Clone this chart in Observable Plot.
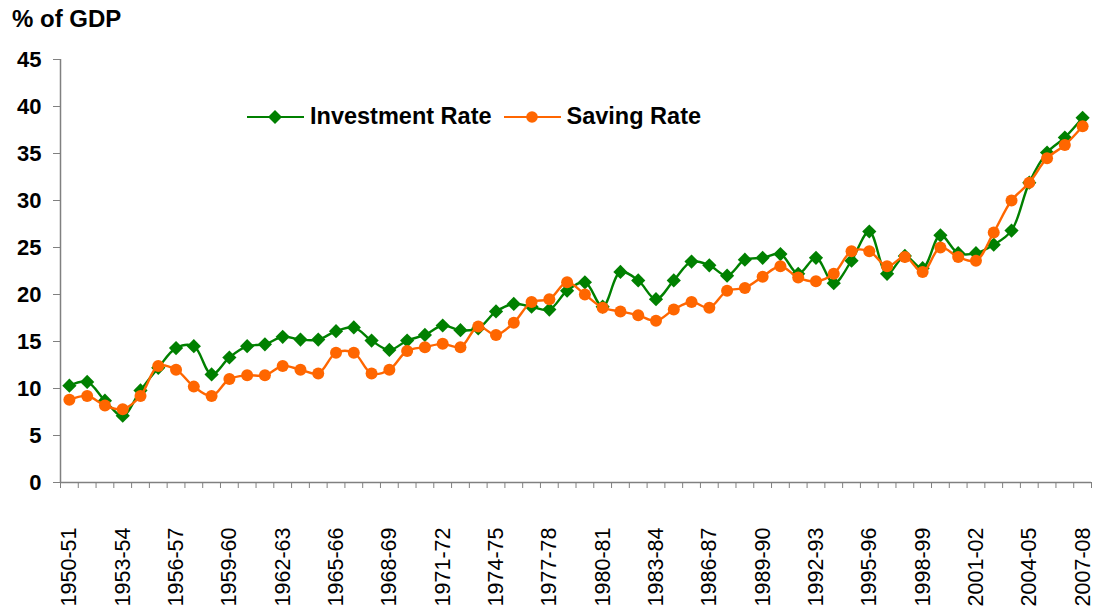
<!DOCTYPE html>
<html>
<head>
<meta charset="utf-8">
<script src="https://cdn.jsdelivr.net/npm/d3@7"></script>
<script src="https://cdn.jsdelivr.net/npm/@observablehq/plot@0.6"></script>
<style>
  html, body { margin: 0; padding: 0; background: #fff; }
  #wrap { position: relative; width: 1094px; height: 610px; font-family: "Liberation Sans", Arial, sans-serif; }
  #title { position: absolute; left: 12px; top: 5px; font-weight: bold; font-size: 24px; color: #000; }
  #legend { position: absolute; left: 247px; top: 103px; display: flex; align-items: center; font-weight: bold; font-size: 23.5px; color: #000; }
  #legend .item { display: flex; align-items: center; margin-right: 12px; }
  #legend svg { margin-right: 6px; }
</style>
</head>
<body>
<div id="wrap">
  <div id="chart"></div>
  <div id="title">% of GDP</div>
  <div id="legend"></div>
</div>
<script>
const categories = [
  "1950-51","1951-52","1952-53","1953-54","1954-55","1955-56","1956-57","1957-58","1958-59","1959-60",
  "1960-61","1961-62","1962-63","1963-64","1964-65","1965-66","1966-67","1967-68","1968-69","1969-70",
  "1970-71","1971-72","1972-73","1973-74","1974-75","1975-76","1976-77","1977-78","1978-79","1979-80",
  "1980-81","1981-82","1982-83","1983-84","1984-85","1985-86","1986-87","1987-88","1988-89","1989-90",
  "1990-91","1991-92","1992-93","1993-94","1994-95","1995-96","1996-97","1997-98","1998-99","1999-00",
  "2000-01","2001-02","2002-03","2003-04","2004-05","2005-06","2006-07","2007-08"
];
const investmentRate = [
  10.3, 10.7, 8.7, 7.1, 9.8, 12.2, 14.3, 14.5, 11.5, 13.3,
  14.5, 14.7, 15.5, 15.2, 15.2, 16.1, 16.5, 15.1, 14.1, 15.1,
  15.7, 16.7, 16.2, 16.4, 18.2, 19.0, 18.7, 18.4, 20.4, 21.3,
  18.7, 22.4, 21.5, 19.5, 21.5, 23.5, 23.1, 22.0, 23.7, 23.9,
  24.3, 22.2, 23.9, 21.2, 23.6, 26.7, 22.2, 24.1, 22.8, 26.3,
  24.4, 24.4, 25.3, 26.8, 31.9, 35.1, 36.7, 38.8
];
const savingRate = [
  8.8, 9.2, 8.2, 7.8, 9.2, 12.4, 12.0, 10.2, 9.2, 11.0,
  11.4, 11.4, 12.4, 12.0, 11.6, 13.8, 13.8, 11.6, 12.0, 14.0,
  14.4, 14.75, 14.4, 16.6, 15.7, 17.0, 19.2, 19.5, 21.3, 20.0,
  18.6, 18.2, 17.8, 17.2, 18.4, 19.2, 18.6, 20.4, 20.7, 21.9,
  23.0, 21.8, 21.4, 22.2, 24.6, 24.6, 23.0, 24.0, 22.4, 25.0,
  24.0, 23.6, 26.6, 30.0, 31.9, 34.5, 35.9, 37.9
];
const yTicks = [0, 5, 10, 15, 20, 25, 30, 35, 40, 45];
const labelEvery = 3;
const seriesNames = ["Investment Rate", "Saving Rate"];
const seriesColors = ["#008000", "#FF6600"];

const inv = categories.map((c, i) => ({i, c, v: investmentRate[i]}));
const sav = categories.map((c, i) => ({i, c, v: savingRate[i]}));
const n = categories.length;
const labelIdx = d3.range(0, n, labelEvery);
const boundaries = d3.range(-0.5, n, 1);
const axisColor = "#808080";

const chart = Plot.plot({
  width: 1094,
  height: 610,
  marginLeft: 60,
  marginRight: 3,
  marginTop: 59,
  marginBottom: 128,
  style: {fontFamily: "'Liberation Sans', Arial, sans-serif", background: "#fff", overflow: "visible"},
  x: {type: "linear", domain: [-0.5, n - 0.5]},
  y: {domain: [0, 45]},
  marks: [
    Plot.axisY({ticks: yTicks, tickSize: 7, tickPadding: 12, fontSize: 22, fontWeight: "bold", stroke: axisColor, color: "#000", label: null, tickFormat: d => d}),
    Plot.axisX({ticks: boundaries, tickSize: 6, tickFormat: () => "", stroke: axisColor, label: null}),
    Plot.axisX({ticks: labelIdx, tickSize: 0, tickPadding: 45, tickRotate: -90, fontSize: 21.5, tickFormat: i => categories[i], label: null}),
    Plot.ruleY([0], {stroke: axisColor, strokeWidth: 1.5}),
    Plot.ruleX([-0.5], {stroke: axisColor, strokeWidth: 1.5}),
    Plot.line(inv, {x: "i", y: "v", stroke: seriesColors[0], strokeWidth: 2.4, curve: "catmull-rom"}),
    Plot.dot(inv, {x: "i", y: "v", symbol: "diamond2", r: 6.4, fill: seriesColors[0], stroke: "none"}),
    Plot.line(sav, {x: "i", y: "v", stroke: seriesColors[1], strokeWidth: 2.4, curve: "catmull-rom"}),
    Plot.dot(sav, {x: "i", y: "v", symbol: "circle", r: 6, fill: seriesColors[1], stroke: "none"})
  ]
});
document.getElementById("chart").appendChild(chart);

// legend
const legend = document.getElementById("legend");
seriesNames.forEach((name, k) => {
  const item = document.createElement("div");
  item.className = "item";
  const sym = k === 0
    ? `<path d="M28,6 L35,13 L28,20 L21,13 Z" fill="${seriesColors[k]}"/>`
    : `<circle cx="28" cy="13" r="5.8" fill="${seriesColors[k]}"/>`;
  item.innerHTML = `<svg width="57" height="26"><line x1="0" x2="57" y1="13" y2="13" stroke="${seriesColors[k]}" stroke-width="2"/>${sym}</svg><span>${name}</span>`;
  legend.appendChild(item);
});
</script>
</body>
</html>
